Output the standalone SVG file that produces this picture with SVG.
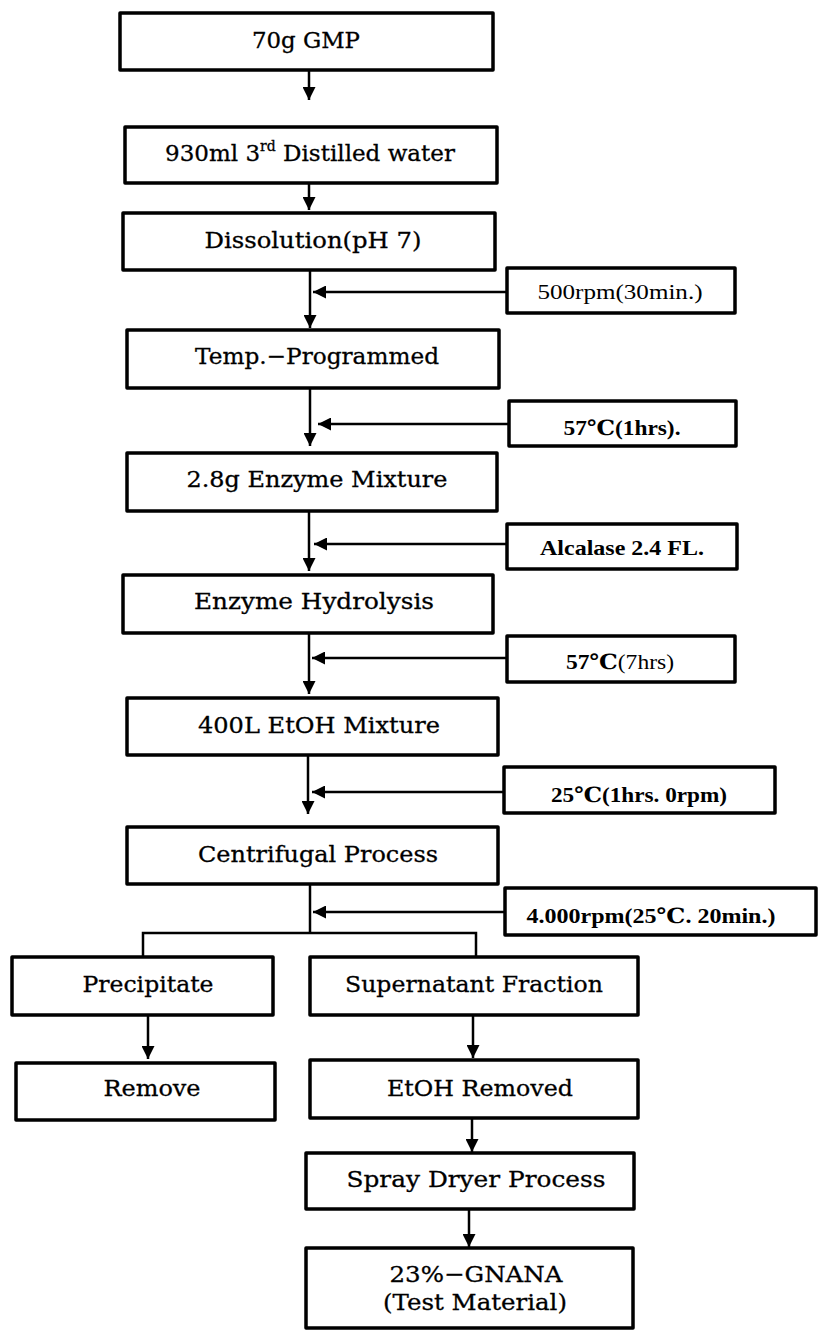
<svg xmlns="http://www.w3.org/2000/svg" width="827" height="1339" viewBox="0 0 827 1339">
<style>
.box{fill:#fff;stroke:#000;stroke-width:3.5;stroke-linejoin:round}
.ln{fill:none;stroke:#000;stroke-width:2.5}
.arr{fill:none;stroke:#000;stroke-width:2.5;marker-end:url(#ah)}
.t{font-family:"DejaVu Serif","Liberation Serif",serif;font-size:23px;text-anchor:middle;fill:#000;stroke:#000;stroke-width:0.3}
.s{font-family:"Liberation Serif","DejaVu Serif",serif;font-size:21px;text-anchor:middle;fill:#000}
.b{font-weight:bold}
</style>
<defs>
<marker id="ah" viewBox="0 0 12 12" refX="12" refY="6" markerWidth="13" markerHeight="13" markerUnits="userSpaceOnUse" orient="auto">
<path d="M0,0 L12,6 L0,12 z" fill="#000"/>
</marker>
</defs>
<rect width="827" height="1339" fill="#fff"/>
<g id="connectors">
<line class="arr" x1="309" y1="70" x2="309" y2="100"/>
<line class="arr" x1="309" y1="183" x2="309" y2="210"/>
<line class="arr" x1="310" y1="270" x2="310" y2="328"/>
<line class="arr" x1="507" y1="292" x2="313" y2="292"/>
<line class="arr" x1="310" y1="388" x2="310" y2="446"/>
<line class="arr" x1="509" y1="424" x2="318" y2="424"/>
<line class="arr" x1="309" y1="511" x2="309" y2="571"/>
<line class="arr" x1="507" y1="544" x2="314" y2="544"/>
<line class="arr" x1="309" y1="633" x2="309" y2="694"/>
<line class="arr" x1="507" y1="658" x2="312" y2="658"/>
<line class="arr" x1="308" y1="755" x2="308" y2="814"/>
<line class="arr" x1="504" y1="792" x2="312" y2="792"/>
<line class="ln" x1="310" y1="884" x2="310" y2="933"/>
<line class="arr" x1="505" y1="912" x2="313" y2="912"/>
<polyline class="ln" points="143,957 143,933 476,933 476,957"/>
<line class="arr" x1="148" y1="1015" x2="148" y2="1059"/>
<line class="arr" x1="473" y1="1015" x2="473" y2="1058"/>
<line class="arr" x1="472" y1="1118" x2="472" y2="1152"/>
<line class="arr" x1="469" y1="1209" x2="469" y2="1247"/>
</g>
<g id="n1"><rect class="box" x="120" y="13" width="373" height="57"/><text class="t" x="306" y="48" textLength="108" lengthAdjust="spacingAndGlyphs">70g GMP</text></g>
<g id="n2"><rect class="box" x="125" y="127" width="372" height="56"/><text class="t" x="310" y="161" font-size="23">930ml 3<tspan font-size="14" dy="-10">rd</tspan><tspan dy="10"> Distilled water</tspan></text></g>
<g id="n3"><rect class="box" x="123" y="213" width="372" height="57"/><text class="t" x="313" y="248" textLength="217" lengthAdjust="spacingAndGlyphs">Dissolution(pH 7)</text></g>
<g id="s1"><rect class="box" x="507" y="268" width="228" height="45"/><text class="s" x="620" y="299" textLength="165" lengthAdjust="spacingAndGlyphs">500rpm(30min.)</text></g>
<g id="n4"><rect class="box" x="127" y="330" width="372" height="58"/><text class="t" x="317" y="364" textLength="244" lengthAdjust="spacingAndGlyphs">Temp.−Programmed</text></g>
<g id="s2"><rect class="box" x="509" y="401" width="227" height="45"/><text class="s b" x="622" y="435" textLength="117" lengthAdjust="spacingAndGlyphs">57℃(1hrs).</text></g>
<g id="n5"><rect class="box" x="127" y="453" width="370" height="58"/><text class="t" x="317" y="487" textLength="261" lengthAdjust="spacingAndGlyphs">2.8g Enzyme Mixture</text></g>
<g id="s3"><rect class="box" x="507" y="524" width="230" height="45"/><text class="s b" x="622" y="555" textLength="164" lengthAdjust="spacingAndGlyphs">Alcalase 2.4 FL.</text></g>
<g id="n6"><rect class="box" x="123" y="575" width="370" height="58"/><text class="t" x="314" y="609" textLength="240" lengthAdjust="spacingAndGlyphs">Enzyme Hydrolysis</text></g>
<g id="s4"><rect class="box" x="507" y="636" width="228" height="46"/><text class="s" x="620" y="669" textLength="108" lengthAdjust="spacingAndGlyphs"><tspan class="b">57℃</tspan>(7hrs)</text></g>
<g id="n7"><rect class="box" x="127" y="698" width="371" height="57"/><text class="t" x="319" y="733" textLength="242" lengthAdjust="spacingAndGlyphs">400L EtOH Mixture</text></g>
<g id="s5"><rect class="box" x="504" y="767" width="271" height="46"/><text class="s b" x="639" y="802" textLength="176" lengthAdjust="spacingAndGlyphs">25℃(1hrs. 0rpm)</text></g>
<g id="n8"><rect class="box" x="127" y="827" width="371" height="57"/><text class="t" x="318" y="862" textLength="240" lengthAdjust="spacingAndGlyphs">Centrifugal Process</text></g>
<g id="s6"><rect class="box" x="505" y="888" width="311" height="47"/><text class="s b" x="651" y="923" textLength="249" lengthAdjust="spacingAndGlyphs">4.000rpm(25℃. 20min.)</text></g>
<g id="n9"><rect class="box" x="12" y="957" width="261" height="58"/><text class="t" x="148" y="992" textLength="131" lengthAdjust="spacingAndGlyphs">Precipitate</text></g>
<g id="n10"><rect class="box" x="310" y="957" width="328" height="58"/><text class="t" x="474" y="992" textLength="258" lengthAdjust="spacingAndGlyphs">Supernatant Fraction</text></g>
<g id="n11"><rect class="box" x="16" y="1063" width="259" height="57"/><text class="t" x="152" y="1096" textLength="97" lengthAdjust="spacingAndGlyphs">Remove</text></g>
<g id="n12"><rect class="box" x="310" y="1060" width="328" height="58"/><text class="t" x="480" y="1096" textLength="186" lengthAdjust="spacingAndGlyphs">EtOH Removed</text></g>
<g id="n13"><rect class="box" x="306" y="1153" width="328" height="56"/><text class="t" x="476" y="1187" textLength="259" lengthAdjust="spacingAndGlyphs">Spray Dryer Process</text></g>
<g id="n14"><rect class="box" x="306" y="1248" width="327" height="80"/><text class="t" x="476" y="1282" textLength="173" lengthAdjust="spacingAndGlyphs">23%−GNANA</text><text class="t" x="475" y="1310" textLength="184" lengthAdjust="spacingAndGlyphs">(Test Material)</text></g>
</svg>
